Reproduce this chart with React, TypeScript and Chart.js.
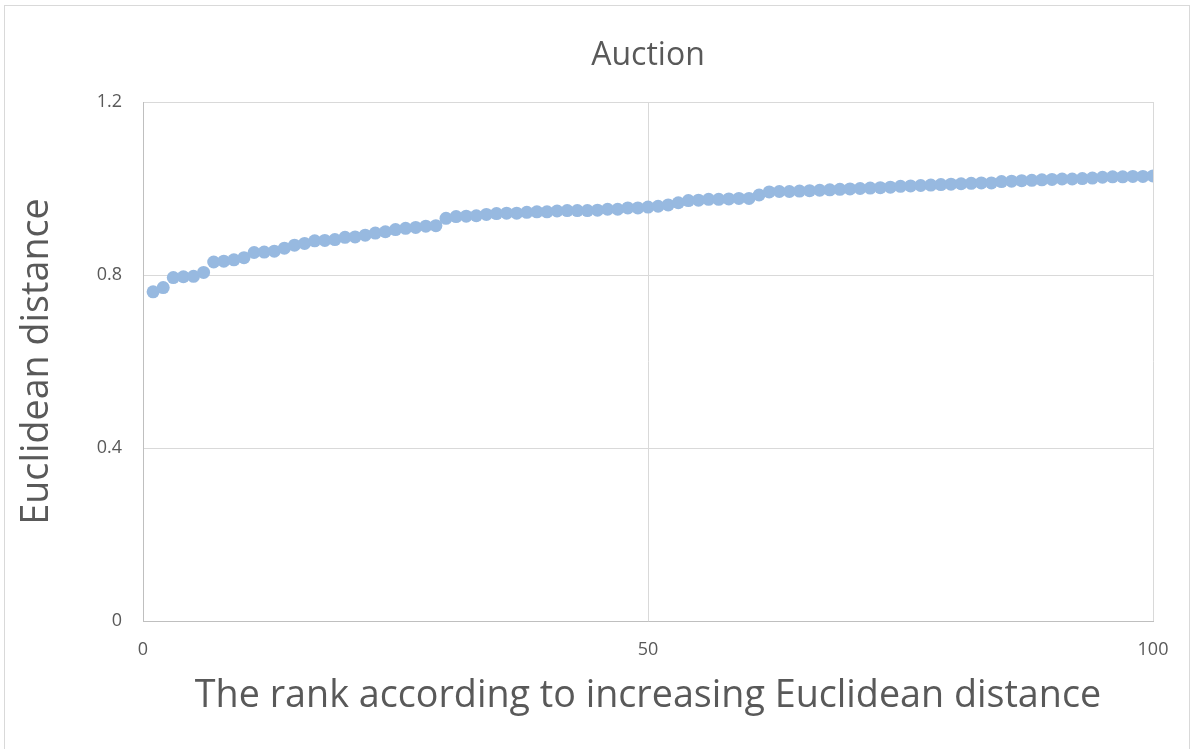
import React, { useEffect, useRef } from "react";
import { Chart, registerables } from "chart.js";

Chart.register(...registerables);

const chartTitle = "Auction";
const xAxisTitle = "The rank according to increasing Euclidean distance";
const yAxisTitle = "Euclidean distance";

const ranks = [
  1, 2, 3, 4, 5, 6, 7, 8, 9, 10,
  11, 12, 13, 14, 15, 16, 17, 18, 19, 20,
  21, 22, 23, 24, 25, 26, 27, 28, 29, 30,
  31, 32, 33, 34, 35, 36, 37, 38, 39, 40,
  41, 42, 43, 44, 45, 46, 47, 48, 49, 50,
  51, 52, 53, 54, 55, 56, 57, 58, 59, 60,
  61, 62, 63, 64, 65, 66, 67, 68, 69, 70,
  71, 72, 73, 74, 75, 76, 77, 78, 79, 80,
  81, 82, 83, 84, 85, 86, 87, 88, 89, 90,
  91, 92, 93, 94, 95, 96, 97, 98, 99, 100,
];

const distances = [
  0.761, 0.771, 0.794, 0.796, 0.797, 0.806, 0.830, 0.832, 0.835, 0.840,
  0.852, 0.853, 0.855, 0.862, 0.869, 0.873, 0.879, 0.880, 0.882, 0.887,
  0.888, 0.892, 0.897, 0.900, 0.905, 0.908, 0.910, 0.913, 0.914, 0.931,
  0.935, 0.936, 0.937, 0.940, 0.942, 0.943, 0.943, 0.945, 0.946, 0.946,
  0.948, 0.949, 0.949, 0.949, 0.950, 0.952, 0.952, 0.955, 0.955, 0.957,
  0.959, 0.962, 0.967, 0.972, 0.973, 0.975, 0.975, 0.976, 0.977, 0.977,
  0.985, 0.992, 0.993, 0.993, 0.994, 0.995, 0.996, 0.997, 0.998, 0.999,
  1.000, 1.001, 1.002, 1.003, 1.005, 1.006, 1.007, 1.008, 1.009, 1.010,
  1.011, 1.012, 1.013, 1.013, 1.016, 1.017, 1.018, 1.019, 1.020, 1.021,
  1.022, 1.022, 1.023, 1.024, 1.026, 1.027, 1.027, 1.028, 1.028, 1.029,
];

const xTickValues = [0, 50, 100];
const yTickValues = [0, 0.4, 0.8, 1.2];

const FONT = "'Open Sans', 'Noto Sans', sans-serif";
const TEXT = "#595959";

const frame = {
  id: "frame",
  beforeDraw(chart: any) {
    const ctx = chart.ctx;
    ctx.save();
    ctx.fillStyle = "#ffffff";
    ctx.fillRect(0, 0, chart.width, chart.height);
    ctx.strokeStyle = "#d9d9d9";
    ctx.lineWidth = 1;
    ctx.strokeRect(4.5, 5.5, 1185, 760);
    ctx.restore();
  },
  afterDraw(chart: any) {
    const ctx = chart.ctx;
    const area = chart.chartArea;
    ctx.save();
    ctx.fillStyle = TEXT;
    ctx.font = `32px ${FONT}`;
    ctx.textAlign = "center";
    ctx.textBaseline = "middle";
    ctx.fillText(chartTitle, (area.left + area.right) / 2, 56);
    ctx.restore();
  },
};

export default function App() {
  const ref = useRef<HTMLCanvasElement | null>(null);

  useEffect(() => {
    document.body.style.margin = "0";
    const canvas = ref.current;
    if (!canvas) return;
    const chart = new Chart(canvas, {
      type: "scatter",
      data: {
        datasets: [
          {
            label: yAxisTitle,
            data: ranks.map((r, i) => ({ x: r, y: distances[i] })),
            backgroundColor: "#97b9e0",
            borderColor: "#97b9e0",
            borderWidth: 0,
            pointRadius: 6.5,
            pointHoverRadius: 6.5,
          },
        ],
      },
      options: {
        responsive: false,
        animation: false,
        devicePixelRatio: 1,
        layout: { padding: { left: 0, right: 40, top: 102, bottom: 0 } },
        plugins: {
          legend: { display: false },
          tooltip: { enabled: false },
          title: { display: false },
        },
        scales: {
          x: {
            type: "linear",
            min: 0,
            max: 100,
            afterBuildTicks: (s: any) => {
              s.ticks = xTickValues.map((v) => ({ value: v }));
            },
            afterFit: (s: any) => {
              s.height = 128;
            },
            grid: { color: "#d9d9d9", lineWidth: 1, drawTicks: false },
            border: { color: "#bfbfbf", width: 1 },
            ticks: {
              color: TEXT,
              font: { family: FONT, size: 18 },
              padding: 18,
              maxRotation: 0,
            },
            title: {
              display: true,
              text: xAxisTitle,
              color: TEXT,
              font: { family: FONT, size: 37.7 },
              padding: { top: 0, bottom: 30 },
            },
          },
          y: {
            type: "linear",
            min: 0,
            max: 1.2,
            afterBuildTicks: (s: any) => {
              s.ticks = yTickValues.map((v) => ({ value: v }));
            },
            afterFit: (s: any) => {
              s.width = 143;
            },
            grid: { color: "#d9d9d9", lineWidth: 1, drawTicks: false },
            border: { color: "#bfbfbf", width: 1 },
            ticks: {
              color: TEXT,
              font: { family: FONT, size: 18 },
              padding: 21,
              callback: (v: any) => String(v),
            },
            title: {
              display: true,
              text: yAxisTitle,
              color: TEXT,
              font: { family: FONT, size: 37.7 },
              padding: { top: 15, bottom: 0 },
            },
          },
        },
      },
      plugins: [frame],
    });
    return () => chart.destroy();
  }, []);

  return (
    <div style={{ width: 1193, height: 749, position: "relative" }}>
      <canvas ref={ref} width={1193} height={749} style={{ display: "block" }} />
    </div>
  );
}
